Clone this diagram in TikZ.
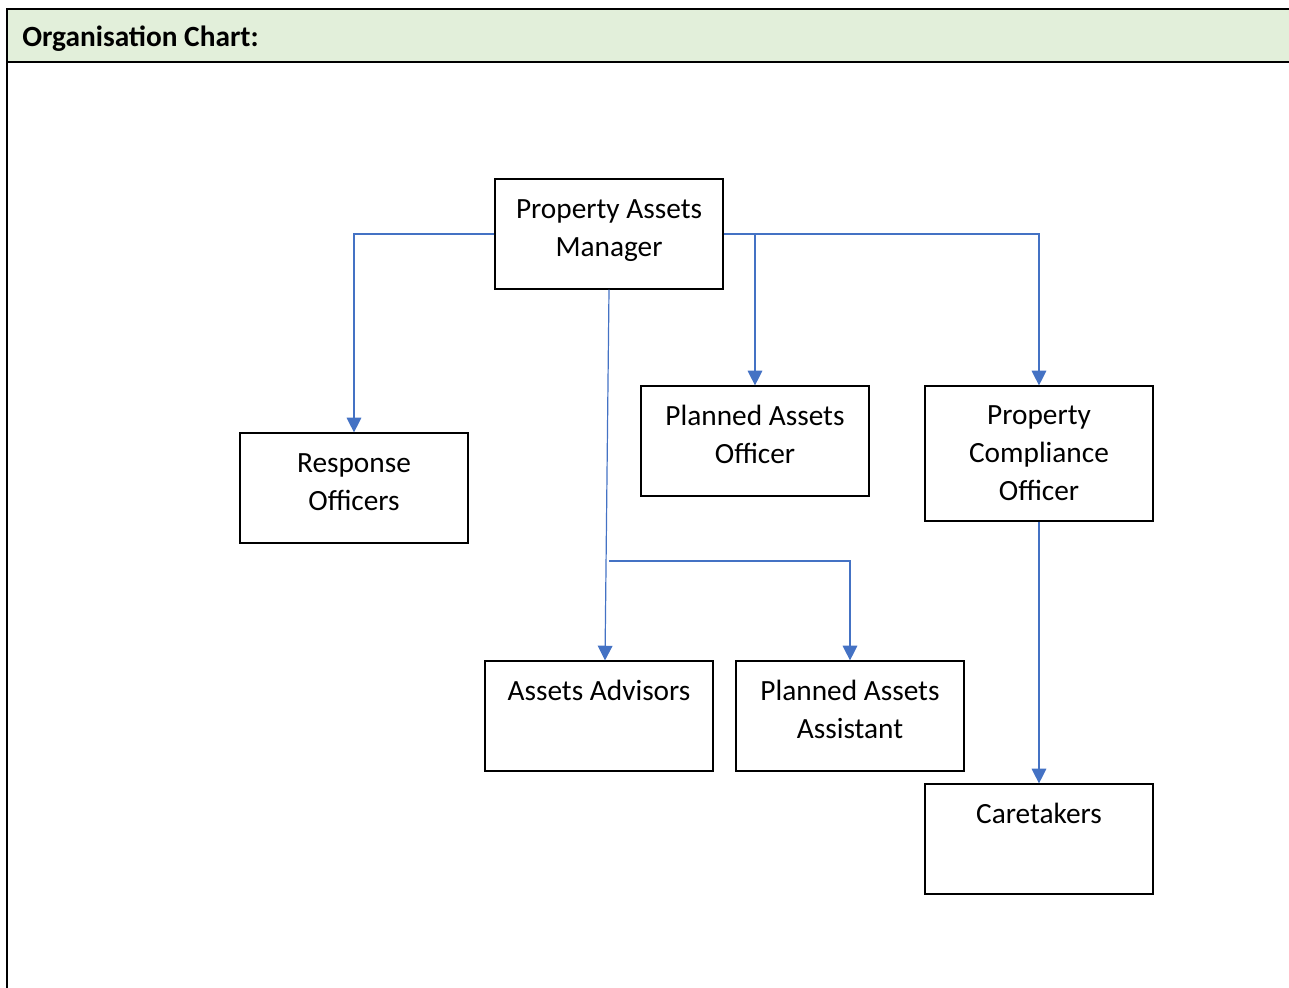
\documentclass[tikz,border=0pt]{standalone}
\usepackage{fontspec}
\setmainfont{Carlito}
\usetikzlibrary{arrows.meta,calc}
\definecolor{hdrgreen}{HTML}{E2EFDA}
\definecolor{connblue}{HTML}{4472C4}
\tikzset{
  basebox/.style={draw=black, line width=0.9pt, inner sep=0pt, align=center,
    minimum width=171pt, font=\fontsize{22}{28.5}\selectfont},
  orgbox/.style={basebox, minimum height=82.5pt,
    execute at end node={\rule[-9.5pt]{0pt}{9.5pt}}},
  tallbox/.style={basebox, minimum height=101.25pt},
  conn/.style={draw=connblue, line width=0.9pt,
    -{Triangle[width=11pt,length=11pt]}},
  frameline/.style={draw=black, line width=1.6pt},
}
\begin{document}
\begin{tikzpicture}[x=0.75pt,y=-0.75pt]
\useasboundingbox (0,0) rectangle (1289,988);
% header band
\fill[hdrgreen] (7,9) rectangle (1295,62);
\draw[frameline] (1295,9) -- (7,9) -- (7,995);
\draw[frameline] (7,62) -- (1295,62);
\node[anchor=base west, inner sep=0pt, font=\fontsize{22}{26}\selectfont\bfseries] (title) at (22,47) {Organisation Chart:};
% boxes
\node[orgbox] (pam) at (609,234) {Property Assets\\Manager};
\node[orgbox] (resp) at (354,488) {Response\\Officers};
\node[orgbox] (pao) at (755,441) {Planned Assets\\Officer};
\node[tallbox] (pco) at (1039,453.5) {Property\\Compliance\\Officer};
\node[orgbox] (aa) at (599,716) {Assets Advisors\\\mbox{}};
\node[orgbox] (paa) at (850,716) {Planned Assets\\Assistant};
\node[orgbox] (care) at (1039,839) {Caretakers\\\mbox{}};
% connectors
\draw[conn] (pam.west) -| (resp.north);
\draw[conn] (pam.east) -| (pco.north);
\draw[conn] (pam.east -| pao.north) -- (pao.north);
\draw[conn] (pam.south) -- ($(aa.north)+(6,0)$);
\coordinate (br) at (609,561);
\draw[conn] (br) -| (paa.north);
\draw[conn] (pco.south) -- (care.north);
\end{tikzpicture}
\end{document}
